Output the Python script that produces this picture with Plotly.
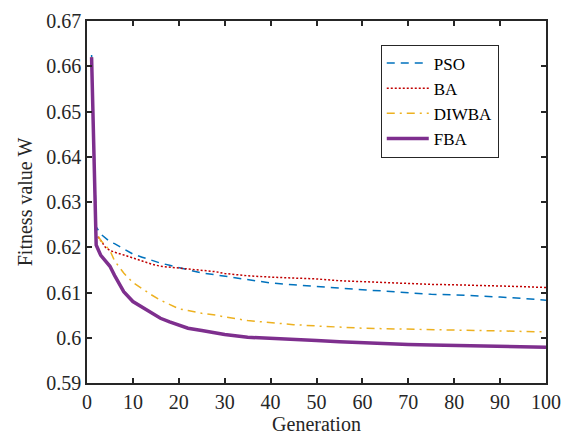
import plotly.graph_objects as go

# Generations at which fitness was sampled
generations = [1, 2, 3, 4, 5, 6, 8, 10, 12, 14, 16, 18, 20, 22, 25, 28, 30,
               35, 40, 45, 50, 55, 60, 65, 70, 75, 80, 85, 90, 95, 100]

pso = [0.6625, 0.6245, 0.6229, 0.6220, 0.6212, 0.6208, 0.6196, 0.6185, 0.6178,
       0.6171, 0.6165, 0.6160, 0.6155, 0.6150, 0.6143, 0.6139, 0.6136, 0.6129,
       0.6121, 0.6117, 0.6113, 0.6109, 0.6106, 0.6103, 0.6100, 0.6096, 0.6095,
       0.6093, 0.6090, 0.6087, 0.6083]

ba = [0.6620, 0.6228, 0.6215, 0.6200, 0.6193, 0.6189, 0.6183, 0.6176, 0.6169,
      0.6163, 0.6158, 0.6156, 0.6153, 0.6151, 0.6149, 0.6146, 0.6142, 0.6137,
      0.6134, 0.6132, 0.6130, 0.6126, 0.6124, 0.6121, 0.6119, 0.6118, 0.6117,
      0.6116, 0.6114, 0.6113, 0.6111]

diwba = [0.6620, 0.6233, 0.6215, 0.6203, 0.6193, 0.6170, 0.6143, 0.6122, 0.6108,
         0.6095, 0.6083, 0.6073, 0.6064, 0.6060, 0.6054, 0.6050, 0.6046, 0.6038,
         0.6033, 0.6029, 0.6026, 0.6023, 0.6021, 0.6020, 0.6019, 0.6018, 0.6017,
         0.6016, 0.6015, 0.6014, 0.6013]

fba = [0.6620, 0.6205, 0.6182, 0.6170, 0.6158, 0.6138, 0.6102, 0.6080, 0.6068,
       0.6055, 0.6043, 0.6035, 0.6027, 0.6021, 0.6016, 0.6011, 0.6007, 0.6001,
       0.5999, 0.5996, 0.5994, 0.5991, 0.5989, 0.5986, 0.5985, 0.5984, 0.5983,
       0.5982, 0.5981, 0.5980, 0.5979]

x_ticks = [0, 10, 20, 30, 40, 50, 60, 70, 80, 90, 100]
y_ticks = [0.59, 0.60, 0.61, 0.62, 0.63, 0.64, 0.65, 0.66, 0.67]
y_tick_text = ["0.59", "0.6", "0.61", "0.62", "0.63", "0.64", "0.65", "0.66", "0.67"]

FONT = "Liberation Serif"
INK = "#262626"

fig = go.Figure()
fig.add_trace(go.Scatter(x=generations, y=pso, name="PSO", mode="lines",
                         line=dict(color="#0072BD", width=1.5, dash="8px,6px")))
fig.add_trace(go.Scatter(x=generations, y=ba, name="BA", mode="lines",
                         line=dict(color="#C00000", width=1.5, dash="2px,2px")))
fig.add_trace(go.Scatter(x=generations, y=diwba, name="DIWBA", mode="lines",
                         line=dict(color="#EDB120", width=1.5, dash="8px,5px,2px,5px")))
fig.add_trace(go.Scatter(x=generations, y=fba, name="FBA", mode="lines",
                         line=dict(color="#7E2F8E", width=3.5)))

axis_common = dict(
    showline=True, linecolor=INK, linewidth=1.5, mirror="ticks",
    ticks="inside", ticklen=5, tickwidth=1.5, tickcolor=INK,
    showgrid=False, zeroline=False, automargin=False,
    tickfont=dict(family=FONT, size=20, color=INK),
)

fig.update_xaxes(range=[0, 100], tickvals=x_ticks,
                 title=dict(text="Generation", font=dict(family=FONT, size=20, color=INK),
                            standoff=0),
                 **axis_common)
fig.update_yaxes(range=[0.59, 0.67], tickvals=y_ticks, ticktext=y_tick_text,
                 title=dict(text="Fitness value W", font=dict(family=FONT, size=20, color=INK),
                            standoff=8),
                 **axis_common)

fig.update_layout(
    width=563, height=435,
    margin=dict(l=87, r=17, t=21, b=52),
    paper_bgcolor="white", plot_bgcolor="white",
    font=dict(family=FONT, size=20, color=INK),
    showlegend=True,
    legend=dict(x=0.64, y=0.935, xanchor="left", yanchor="top",
                bgcolor="white", bordercolor=INK, borderwidth=1,
                font=dict(family=FONT, size=17, color="#000000"),
                tracegroupgap=0, itemwidth=42),
)

fig.write_html("out.html")
